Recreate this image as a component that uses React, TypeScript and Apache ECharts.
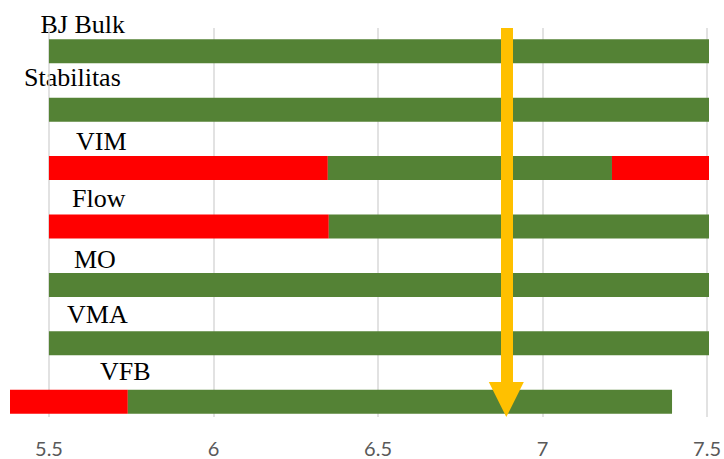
import React, { useEffect, useRef } from "react";
import * as echarts from "echarts";

const categories = ["BJ Bulk", "Stabilitas", "VIM", "Flow", "MO", "VMA", "VFB"];
const barStart = [5.5, 5.5, 5.5, 5.5, 5.5, 5.5, 5.382];
const redEnd = [5.5, 5.5, 6.345, 6.348, 5.5, 5.5, 5.739];
const greenEnd = [7.5, 7.5, 7.206, 7.5, 7.5, 7.5, 7.388];
const barEnd = [7.5, 7.5, 7.5, 7.5, 7.5, 7.5, 7.388];
const tickMin = 5.5;
const tickMax = 7.5;
const tickStep = 0.5;
const markerValue = 6.89;

// label annotation placement (pixels): left x, vertical middle
const labelPos: [number, number][] = [
  [40.5, 24.5],
  [24, 77.5],
  [76, 141],
  [72, 198.5],
  [74, 259],
  [67, 314],
  [100, 371.5],
];

const GREEN = "#548235";
const RED = "#FF0000";
const ORANGE = "#FFC000";

const diff = (a: number[], b: number[]) => a.map((v, i) => +(v - b[i]).toFixed(4));

export default function App() {
  const ref = useRef<HTMLDivElement>(null);
  useEffect(() => {
    if (!ref.current) return;
    const chart = echarts.init(ref.current, null, { renderer: "svg" });
    const barCommon = {
      type: "bar",
      stack: "s",
      barWidth: 24,
      xAxisIndex: 0,
      yAxisIndex: 0,
      silent: true,
    };
    chart.setOption({
      animation: false,
      grid: [
        { left: 10, right: 15, top: 22, bottom: 28 },
        { left: 49, right: 15, top: 28, bottom: 42 },
      ],
      xAxis: [
        {
          gridIndex: 0,
          type: "value",
          min: 5.382,
          max: tickMax,
          show: false,
          splitLine: { show: false },
        },
        {
          gridIndex: 1,
          type: "value",
          min: tickMin,
          max: tickMax,
          interval: tickStep,
          axisLine: { show: false },
          axisTick: { show: false },
          splitLine: { show: true, lineStyle: { color: "#d9d9d9", width: 1.5 } },
          axisLabel: {
            color: "#595959",
            fontSize: 20,
            fontFamily: "Lato",
            margin: 21,
            formatter: (v: number) => String(v),
          },
        },
      ],
      yAxis: [
        {
          gridIndex: 0,
          type: "category",
          data: categories,
          inverse: true,
          show: false,
        },
        { gridIndex: 1, type: "value", min: 0, max: 1, show: false },
      ],
      series: [
        { ...barCommon, name: "base", data: barStart, itemStyle: { color: "transparent" } },
        { ...barCommon, name: "red1", data: diff(redEnd, barStart), itemStyle: { color: RED } },
        { ...barCommon, name: "green", data: diff(greenEnd, redEnd), itemStyle: { color: GREEN } },
        { ...barCommon, name: "red2", data: diff(barEnd, greenEnd), itemStyle: { color: RED } },
        {
          type: "line",
          xAxisIndex: 1,
          yAxisIndex: 1,
          data: [[markerValue, 0]],
          showSymbol: false,
          lineStyle: { opacity: 0 },
          silent: true,
          z: 10,
          markLine: {
            silent: true,
            animation: false,
            symbol: ["none", "triangle"],
            symbolSize: [35, 35],
            label: { show: false },
            itemStyle: { color: ORANGE },
            lineStyle: { color: ORANGE, width: 12, type: "solid" },
            emphasis: { disabled: true },
            data: [[{ coord: [markerValue, 1] }, { coord: [markerValue, 0.045] }]],
          },
        },
      ],
      graphic: categories.map((c, i) => ({
        type: "text",
        x: labelPos[i][0],
        y: labelPos[i][1],
        silent: true,
        style: {
          text: c,
          fontFamily: "Liberation Serif",
          fontSize: 26,
          fill: "#000",
          align: "left",
          verticalAlign: "middle",
        },
      })),
    });
    return () => chart.dispose();
  }, []);
  return (
    <div
      ref={ref}
      style={{ position: "fixed", left: 0, top: 0, width: 724, height: 459, background: "#fff" }}
    />
  );
}
